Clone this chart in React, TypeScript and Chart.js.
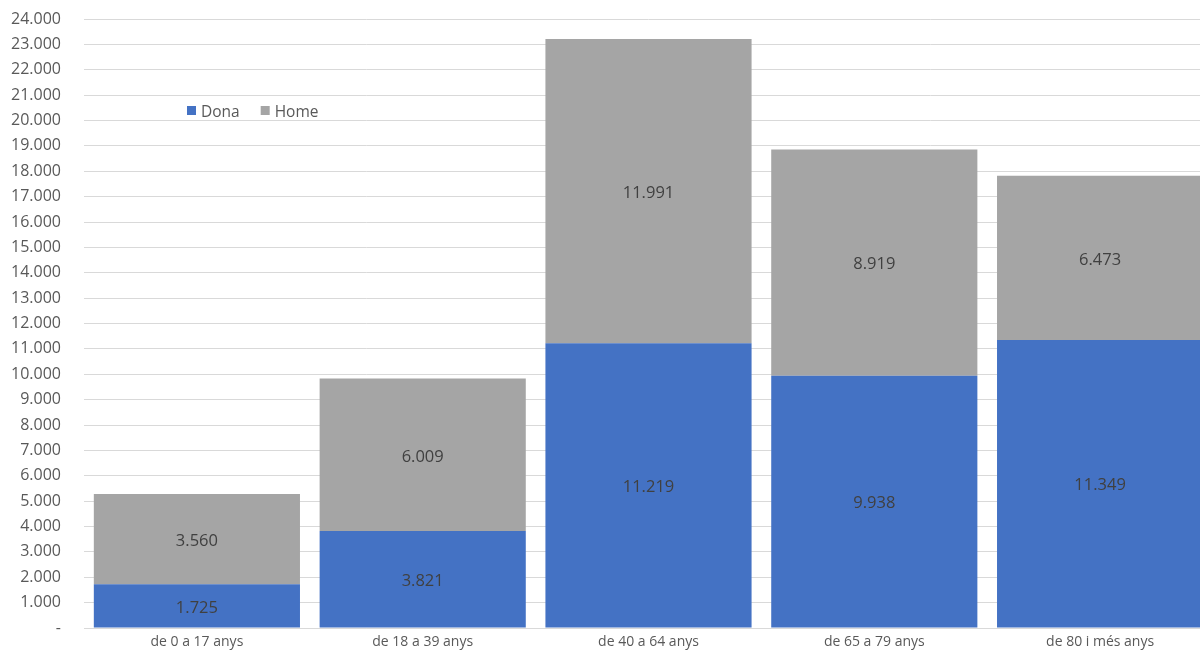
import React, { useEffect, useRef } from "react";
import { Chart, registerables } from "chart.js";

Chart.register(...registerables);

const categories = ["de 0 a 17 anys", "de 18 a 39 anys", "de 40 a 64 anys", "de 65 a 79 anys", "de 80 i més anys"];
const dona = [1725, 3821, 11219, 9938, 11349];
const home = [3560, 6009, 11991, 8919, 6473];
const seriesNames = ["Dona", "Home"];
const seriesColors = ["#4472C4", "#A5A5A5"];
const yMax = 24000;

const FONT = "'Open Sans', 'Noto Sans', sans-serif";

function fmt(v: number): string {
  if (v === 0) return "-";
  return String(Math.round(v)).replace(/\B(?=(\d{3})+(?!\d))/g, ".");
}

const dataLabelPlugin = {
  id: "dataLabels",
  afterDatasetsDraw(chart: any) {
    const ctx = chart.ctx;
    ctx.save();
    ctx.font = `16.5px ${FONT}`;
    ctx.fillStyle = "#404040";
    ctx.textAlign = "center";
    ctx.textBaseline = "middle";
    chart.data.datasets.forEach((ds: any, i: number) => {
      const meta = chart.getDatasetMeta(i);
      meta.data.forEach((bar: any, j: number) => {
        const y = (bar.y + bar.base) / 2 + 2;
        ctx.fillText(fmt(ds.data[j]), bar.x, y);
      });
    });
    ctx.restore();
  },
};

const legendPlugin = {
  id: "insideLegend",
  afterDraw(chart: any) {
    const ctx = chart.ctx;
    ctx.save();
    ctx.font = `15.5px ${FONT}`;
    ctx.textBaseline = "middle";
    ctx.textAlign = "left";
    let x = 187;
    const y = 113;
    seriesNames.forEach((name, i) => {
      ctx.fillStyle = seriesColors[i];
      ctx.fillRect(x, y - 7, 9, 9);
      ctx.fillStyle = "#595959";
      ctx.fillText(name, x + 14, y);
      x += 14 + ctx.measureText(name).width + 21;
    });
    ctx.restore();
  },
};

export default function App() {
  const ref = useRef<HTMLCanvasElement>(null);
  useEffect(() => {
    document.body.style.margin = "0";
    document.body.style.overflow = "hidden";
    const chart = new Chart(ref.current!, {
      type: "bar",
      data: {
        labels: categories,
        datasets: [
          { label: seriesNames[0], data: dona, backgroundColor: seriesColors[0], barPercentage: 0.913, categoryPercentage: 1 },
          { label: seriesNames[1], data: home, backgroundColor: seriesColors[1], barPercentage: 0.913, categoryPercentage: 1 },
        ],
      },
      options: {
        animation: false,
        responsive: false,
        maintainAspectRatio: false,
        layout: { padding: { top: 19, right: 3, left: 0, bottom: 0 } },
        plugins: { legend: { display: false }, tooltip: { enabled: false } },
        scales: {
          x: {
            stacked: true,
            grid: { display: false, drawTicks: false },
            border: { display: true, color: "#D9D9D9", width: 1 },
            ticks: { color: "#595959", font: { family: FONT, size: 14 }, padding: 6, maxRotation: 0 },
            afterFit(scale: any) { scale.height = 33; },
          },
          y: {
            stacked: true,
            min: 0,
            max: yMax,
            grid: { color: "#D9D9D9", drawTicks: true, tickLength: 20, tickColor: "rgba(0,0,0,0)" },
            border: { display: false },
            ticks: {
              stepSize: 500,
              color: "#595959",
              padding: 3,
              font: { family: FONT, size: 16 },
              callback: (v: any) => (Number(v) % 1000 === 0 ? fmt(Number(v)) : ""),
            },
            afterFit(scale: any) { scale.width = 84; },
          },
        },
      },
      plugins: [dataLabelPlugin, legendPlugin],
    });
    return () => chart.destroy();
  }, []);
  return (
    <div style={{ position: "fixed", left: 0, top: 0, width: 1216, height: 661 }}>
      <canvas ref={ref} width={1216} height={661} style={{ width: 1216, height: 661 }} />
    </div>
  );
}
